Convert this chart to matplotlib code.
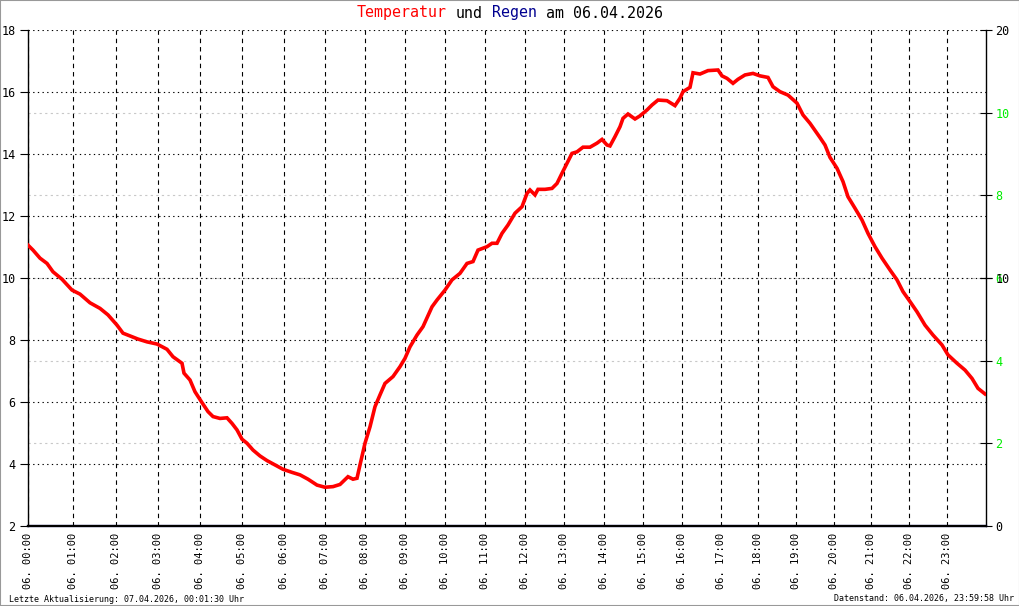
#!/usr/bin/env python3
"""Tagesverlauf Temperatur und Regen, Nachbau der Wetterstations-Grafik."""

import matplotlib

matplotlib.use("Agg")
import matplotlib.pyplot as plt
from matplotlib.patches import Rectangle

MONO = "DejaVu Sans Mono"
RED = "#ff0000"
NAVY = "#000090"
GREEN = "#00ee00"

# x axis is the sample index of the logger (samples are not evenly spaced in time)
SAMPLE_COUNT = 957.7
HOUR_TICK_INDEX = [
    0, 44.7, 87.7, 129.7, 171.7, 213.7, 256.3, 297.3, 337.3, 377.3, 417.3, 457.3,
    497.3, 536.3, 576.3, 615.3, 654.3, 693.3, 730.3, 768.3, 806.3, 843.3, 881.3, 919.3,
]
HOUR_TICK_LABELS = [f"06. {h:02d}:00" for h in range(24)]

TEMP_INDEX = [
    0, 5, 12, 19, 25, 34, 44, 52, 62, 72, 80, 89, 95, 102, 110, 119, 129, 139,
    145, 154, 156, 162, 167, 174, 180, 185, 192, 199, 204, 209, 214, 219, 225,
    232, 239, 247, 255, 264, 272, 280, 289, 297, 305, 312, 320, 325, 329, 332,
    337, 342, 347, 352, 357, 365, 372, 377, 382, 389, 395, 401, 404, 409, 417,
    424, 432, 439, 445, 450, 459, 464, 469, 474, 480, 487, 494, 499, 502, 507,
    510, 517, 524, 529, 534, 539, 544, 549, 555, 562, 569, 574, 579, 582, 587,
    592, 595, 600, 607, 612, 619, 624, 630, 639, 647, 652, 655, 662, 665, 672,
    680, 690, 694, 699, 705, 710, 717, 725, 732, 740, 745, 752, 760, 769, 775,
    782, 792, 797, 802, 809, 815, 820, 827, 834, 840, 847, 854, 862, 869, 875,
    882, 889, 897, 905, 914, 920, 929, 937, 944, 950, 957,
]
TEMP_C = [
    11.06, 10.90, 10.64, 10.47, 10.20, 9.96, 9.61, 9.48, 9.20, 9.02, 8.81, 8.48,
    8.22, 8.13, 8.03, 7.94, 7.87, 7.70, 7.46, 7.25, 6.93, 6.71, 6.33, 5.98, 5.69,
    5.53, 5.47, 5.49, 5.31, 5.10, 4.80, 4.67, 4.45, 4.26, 4.11, 3.97, 3.83, 3.73,
    3.65, 3.51, 3.32, 3.25, 3.27, 3.34, 3.59, 3.51, 3.54, 3.97, 4.67, 5.20, 5.85,
    6.23, 6.60, 6.82, 7.14, 7.41, 7.78, 8.16, 8.43, 8.86, 9.07, 9.29, 9.61, 9.94,
    10.15, 10.47, 10.53, 10.90, 11.01, 11.12, 11.12, 11.44, 11.71, 12.09, 12.30,
    12.73, 12.84, 12.68, 12.86, 12.86, 12.89, 13.05, 13.38, 13.70, 14.02, 14.07,
    14.22, 14.22, 14.35, 14.47, 14.29, 14.26, 14.56, 14.88, 15.15, 15.29, 15.13,
    15.23, 15.42, 15.58, 15.74, 15.72, 15.56, 15.80, 16.01, 16.15, 16.62, 16.58,
    16.69, 16.71, 16.52, 16.44, 16.28, 16.41, 16.55, 16.60, 16.52, 16.47, 16.17,
    16.01, 15.90, 15.64, 15.26, 14.99, 14.53, 14.29, 13.89, 13.54, 13.11, 12.62,
    12.25, 11.87, 11.44, 11.01, 10.64, 10.26, 9.94, 9.56, 9.24, 8.91, 8.48, 8.16,
    7.84, 7.52, 7.25, 7.03, 6.76, 6.44, 6.26,
]

# no rain the whole day
RAIN_INDEX = [0, 957.7]
RAIN_MM = [0.0, 0.0]

TEMP_TICKS = [2, 4, 6, 8, 10, 12, 14, 16, 18]
RAIN_TICKS = [0, 10, 20]
GREEN_TICKS = [2, 4, 6, 8, 10]

TITLE_PARTS = [("Temperatur", RED), (" und ", "black"), ("Regen", NAVY), (" am 06.04.2026", "black")]
FOOTER_LEFT = "Letzte Aktualisierung: 07.04.2026, 00:01:30 Uhr"
FOOTER_RIGHT = "Datenstand: 06.04.2026, 23:59:58 Uhr"

W, H = 1020, 606
TITLE_SIZE = 10.8


def draw_title(fig):
    full = "".join(text for text, _ in TITLE_PARTS)
    y = 1 - 13 / H
    # measure the monospace column width from the whole title, then place each word
    probe = fig.text(0, y, full, family=MONO, fontsize=TITLE_SIZE)
    renderer = fig.canvas.get_renderer()
    total_px = probe.get_window_extent(renderer).width
    probe.remove()
    col_px = total_px / len(full)
    x0 = (W - total_px) / 2
    col = 0
    for text, color in TITLE_PARTS:
        lead = len(text) - len(text.lstrip())
        word = text.strip()
        fig.text((x0 + (col + lead) * col_px) / W, y, word, ha="left", va="center",
                 family=MONO, fontsize=TITLE_SIZE, color=color)
        col += len(text)


def main():
    fig = plt.figure(figsize=(W / 100, H / 100), dpi=100)
    fig.patch.set_facecolor("white")
    rect = [28 / W, 1 - 526 / H, 957.7 / W, 496 / H]

    ax = fig.add_axes(rect)
    ax2 = ax.twinx()
    ax3 = ax.twinx()
    ax3.set_zorder(1)
    ax2.set_zorder(2)
    ax.set_zorder(3)
    for a in (ax, ax2, ax3):
        a.patch.set_visible(False)

    # green helper scale with grey grid
    ax3.set_ylim(0, 12)
    ax3.set_yticks(GREEN_TICKS)
    ax3.tick_params(axis="y", direction="inout", length=8, width=0.8, pad=3,
                    labelcolor=GREEN, labelsize=8.5)
    for lab in ax3.get_yticklabels():
        lab.set_family(MONO)
    ax3.yaxis.grid(True, color="#c8c8c8", linestyle=(0, (2, 3)), linewidth=0.8)
    for s in ax3.spines.values():
        s.set_visible(False)

    # rain scale
    ax2.plot(RAIN_INDEX, RAIN_MM, color=NAVY, linewidth=1.6, clip_on=False, zorder=5)
    ax2.set_ylim(0, 20)
    ax2.set_yticks(RAIN_TICKS)
    ax2.tick_params(axis="y", direction="inout", length=8, width=0.8, pad=3,
                    labelcolor="black", labelsize=8.5)
    for lab in ax2.get_yticklabels():
        lab.set_family(MONO)
    for name, s in ax2.spines.items():
        s.set_visible(name == "right")
    ax2.spines["right"].set_linewidth(1.0)

    # temperature
    ax.plot(TEMP_INDEX, TEMP_C, color=RED, linewidth=2.6, solid_joinstyle="miter", zorder=4)
    ax.set_xlim(0, SAMPLE_COUNT)
    ax.set_ylim(2, 18)
    ax.set_yticks(TEMP_TICKS)
    ax.set_xticks(HOUR_TICK_INDEX)
    ax.set_xticklabels(HOUR_TICK_LABELS, rotation=90, family=MONO, fontsize=7.5)
    for lab in ax.get_yticklabels():
        lab.set_family(MONO)
    ax.tick_params(axis="y", direction="out", length=6, width=0.8, pad=3, labelsize=8.5)
    ax.tick_params(axis="x", length=0, pad=5)
    ax.yaxis.grid(True, color="black", linestyle=(0, (1.2, 3)), linewidth=0.8)
    ax.xaxis.grid(True, color="black", linestyle=(0, (4, 3.5)), linewidth=0.8)
    ax.set_axisbelow(True)
    ax.spines["top"].set_visible(False)
    ax.spines["right"].set_visible(False)
    ax.spines["left"].set_linewidth(1.0)
    ax.spines["bottom"].set_linewidth(1.6)

    draw_title(fig)
    fig.text(9 / W, 1 - 599 / H, FOOTER_LEFT, ha="left", va="center", family=MONO, fontsize=6)
    fig.text(1014 / W, 1 - 599 / H, FOOTER_RIGHT, ha="right", va="center", family=MONO, fontsize=6)

    fig.patches.append(Rectangle((0, 0), 1, 1, transform=fig.transFigure, fill=False,
                                 edgecolor="#999999", linewidth=1.5))

    fig.savefig("out.png", dpi=100)
    plt.close(fig)


if __name__ == "__main__":
    main()
